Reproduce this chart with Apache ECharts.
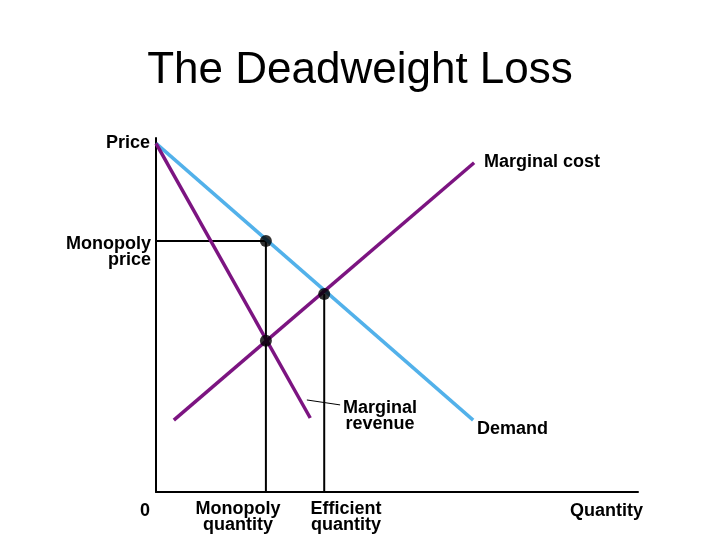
<!DOCTYPE html>
<html>
<head>
<meta charset="utf-8">
<script src="https://cdn.jsdelivr.net/npm/echarts@6/dist/echarts.min.js"></script>
<style>
    html, body { margin: 0; padding: 0; background: #fff; }
    #chart { width: 720px; height: 540px; }
</style>
</head>
<body>
<div id="chart"></div>
<script>
// curves (quantity 0-100, price 0-100)
var demand = [[0, 98.5], [65.8, 20.3]];
var marginalRevenue = [[0, 98.5], [32, 20.9]];
var marginalCost = [[3.7, 20.3], [66, 93]];

// key points
var monopolyQ = 22.8;
var efficientQ = 34.9;
var monopolyP = 70.9;
var efficientP = 55.9;
var mcAtMonopolyQ = 42.7;

var dots = [[monopolyQ, monopolyP], [efficientQ, efficientP], [monopolyQ, mcAtMonopolyQ]];
var monopolyPriceLine = [[0, monopolyP], [monopolyQ, monopolyP]];
var monopolyQLine = [[monopolyQ, 0], [monopolyQ, monopolyP]];
var efficientQLine = [[efficientQ, 0], [efficientQ, efficientP]];
var mrLeader = [[31.3, 26], [38.2, 24.6]];

var chartDom = document.getElementById("chart");
var myChart = echarts.init(chartDom);
var purple = "#7c1481";
var blue = "#52b1ea";
var font = "Liberation Sans";

var labelStyle = function (text, x, y, align) {
    return {
        type: "text",
        x: x,
        y: y,
        style: {
            text: text,
            font: "bold 18px " + font,
            fill: "#000",
            align: align,
            verticalAlign: "middle",
            lineHeight: 16,
        },
    };
};

function blackLine(data) {
    return {
        type: "line",
        data: data,
        symbol: "none",
        lineStyle: { color: "#000", width: 2 },
        silent: true,
        z: 1,
    };
}

var option = {
    animation: false,
    backgroundColor: "#fff",
    title: {
        text: "The Deadweight Loss",
        left: "center",
        top: 44,
        textStyle: { fontFamily: font, fontSize: 44, fontWeight: "normal", color: "#000" },
    },
    grid: { left: 156, top: 138, width: 482, height: 354 },
    xAxis: {
        type: "value",
        min: 0,
        max: 100,
        axisLine: { lineStyle: { color: "#000", width: 2 } },
        axisTick: { show: false },
        axisLabel: { show: false },
        splitLine: { show: false },
    },
    yAxis: {
        type: "value",
        min: 0,
        max: 100,
        axisLine: { show: true, lineStyle: { color: "#000", width: 2 } },
        axisTick: { show: false },
        axisLabel: { show: false },
        splitLine: { show: false },
    },
    series: [
        blackLine(monopolyPriceLine),
        blackLine(monopolyQLine),
        blackLine(efficientQLine),
        {
            type: "line",
            data: mrLeader,
            symbol: "none",
            lineStyle: { color: "#000", width: 1 },
            z: 1,
        },
        {
            type: "line",
            data: demand,
            symbol: "none",
            lineStyle: { color: blue, width: 3.5 },
            z: 2,
        },
        {
            type: "line",
            data: marginalRevenue,
            symbol: "none",
            lineStyle: { color: purple, width: 3.5 },
            z: 3,
        },
        {
            type: "line",
            data: marginalCost,
            symbol: "none",
            lineStyle: { color: purple, width: 3.5 },
            z: 3,
        },
        {
            type: "scatter",
            data: dots,
            symbol: "circle",
            symbolSize: 12,
            itemStyle: { color: "#000" },
            z: 5,
        },
    ],
    graphic: [
        labelStyle("Price", 150, 143, "right"),
        labelStyle("Monopoly\nprice", 151, 252, "right"),
        labelStyle("Marginal cost", 484, 162, "left"),
        labelStyle("Marginal\nrevenue", 380, 416, "center"),
        labelStyle("Demand", 477, 429, "left"),
        labelStyle("0", 145, 511, "center"),
        labelStyle("Monopoly\nquantity", 238, 517, "center"),
        labelStyle("Efficient\nquantity", 346, 517, "center"),
        labelStyle("Quantity", 643, 511, "right"),
    ],
};
option && myChart.setOption(option, true);
</script>
</body>
</html>
